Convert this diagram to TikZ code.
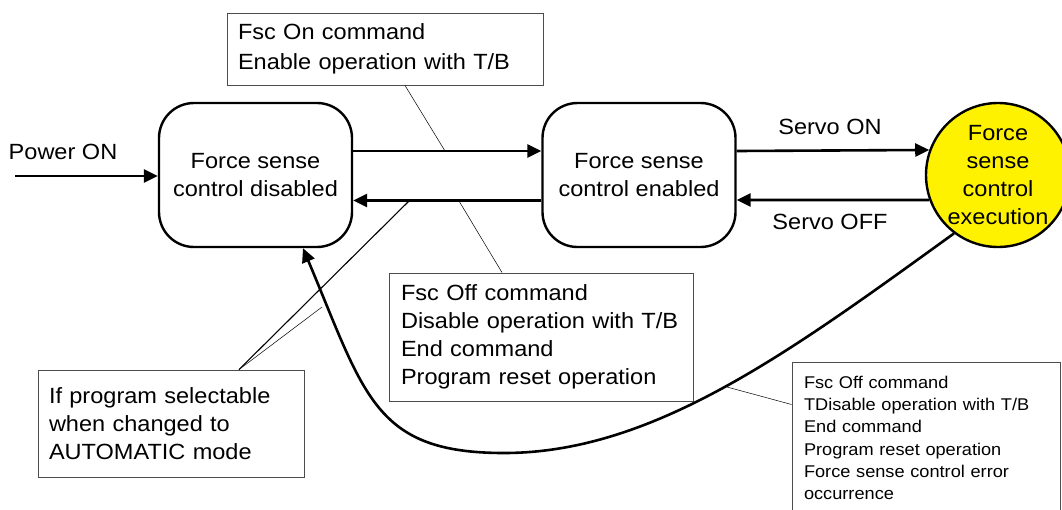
\documentclass[tikz,border=0pt]{standalone}
\usepackage{fontspec}
\setmainfont{Liberation Sans}[FakeStretch=1.07]
\usetikzlibrary{arrows.meta}
\begin{document}
\begin{tikzpicture}[x=1pt,y=-1pt,
  bigtxt/.style={font=\fontsize{22}{28}\selectfont},
  statebox/.style={bigtxt,draw,line width=2.4pt,rounded corners=35pt,minimum width=193pt,minimum height=144pt,align=center,inner sep=0pt},
  execcircle/.style={bigtxt,circle,draw,line width=2.4pt,fill=yellow,minimum size=144pt,inner sep=0pt,align=center},
  callbox/.style={draw=black!70,line width=0.9pt,align=left,inner ysep=0pt,anchor=center},
  bigarrow/.style={line width=2.6pt,-{Triangle[length=14pt,width=13pt]}},
  callline/.style={line width=0.5pt},
  callthick/.style={line width=1.1pt}]
\useasboundingbox (0,0) rectangle (1062,509);

% states
\node[statebox] (dis) at (255.5,175) {Force sense\\control disabled};
\node[statebox] (en) at (639,175) {Force sense\\control enabled};
\node[execcircle] (ex) at (998,175) {Force\\sense\\control\\execution};

% labels
\node[bigtxt] (pwr) at (63,152) {Power ON};
\node[bigtxt] (son) at (830,127) {Servo ON};
\node[bigtxt] (soff) at (830,222) {Servo OFF};

% callout boxes
\node[callbox,font=\fontsize{22}{30}\selectfont,inner xsep=11pt,text width=294pt,minimum height=72pt] (tb) at (385,49)
  {Fsc On command\\Enable operation with T/B};
\node[callbox,bigtxt,inner xsep=12pt,text width=280pt,minimum height=128pt] (mb) at (541,337)
  {Fsc Off command\\Disable operation with T/B\\End command\\Program reset operation};
\node[callbox,bigtxt,inner xsep=11pt,text width=244pt,minimum height=107pt] (lb) at (171,423.5)
  {If program selectable\\when changed to\\AUTOMATIC mode};
\node[callbox,font=\fontsize{17}{22.2}\selectfont,inner xsep=12pt,text width=244pt,minimum height=152pt] (rb) at (926,438)
  {Fsc Off command\\TDisable operation with T/B\\End command\\Program reset operation\\Force sense control error\\occurrence};

% transitions
\coordinate (p0) at (15,176);
\coordinate (low) at (504,453);
\draw[bigarrow] (p0) -- (p0 -| dis.west);
\draw[bigarrow] ([yshift=24pt]dis.east) -- ([yshift=24pt]en.west);
\draw[bigarrow] ([yshift=-25.5pt]en.west) -- ([yshift=-25.5pt]dis.east);
\draw[bigarrow] ([yshift=24pt]en.east) -- (ex.160.5);
\draw[bigarrow] (ex.200) -- ([yshift=-25pt]en.east);
\draw[bigarrow] (ex.233) .. controls (791,351) and (654,453) .. (low)
  .. controls (374,453) and (365,395.5) .. ([xshift=47.5pt]dis.south);

% callout lines
\coordinate (c1) at (445,151);
\coordinate (c2) at (459,201);
\coordinate (c3) at (409,201);
\coordinate (c4) at (322,307);
\coordinate (c5) at (727,387);
\draw[callline] ([xshift=20pt]tb.south) -- (c1);
\draw[callline] ([xshift=-39pt]mb.north) -- (c2);
\draw[callthick] ([xshift=68pt]lb.north) -- (c3);
\draw[callline] ([xshift=68pt]lb.north) -- (c4);
\draw[callline] ([yshift=33.5pt]rb.west) -- (c5);
\end{tikzpicture}
\end{document}
